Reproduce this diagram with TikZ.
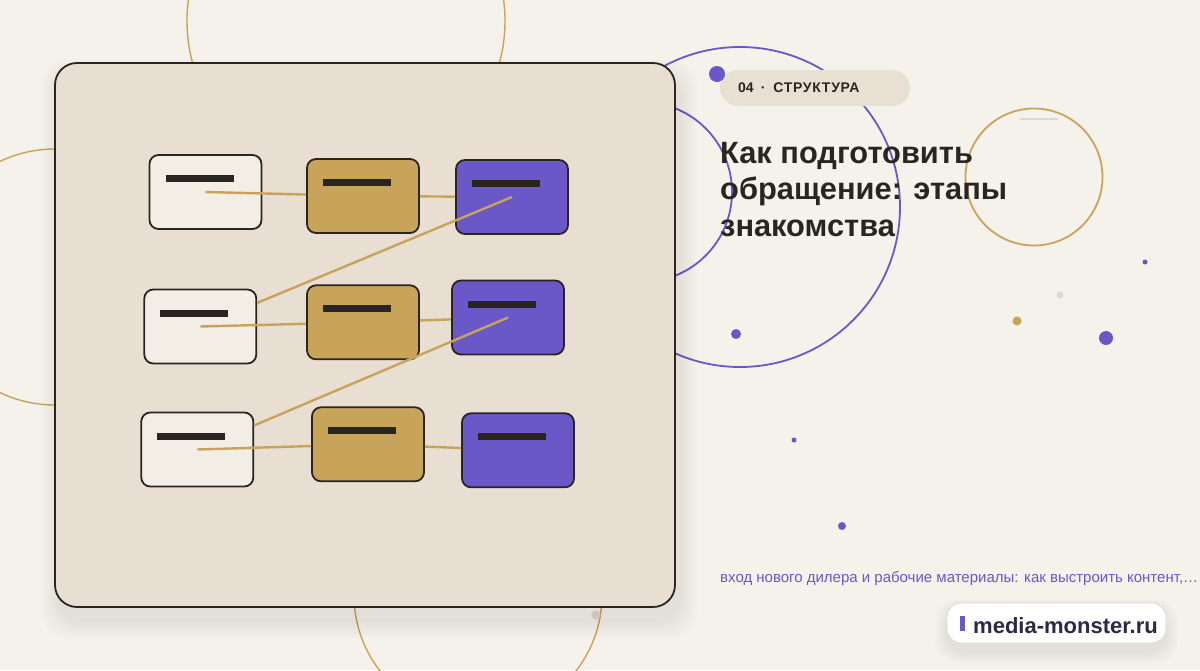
\documentclass[tikz,border=0pt]{standalone}
\usepackage{fontspec}
\setmainfont{Liberation Sans}

\definecolor{paper}{HTML}{F5F2EC}
\definecolor{panel}{HTML}{E8DFD2}
\definecolor{ink}{HTML}{2A2520}
\definecolor{gold}{HTML}{C8A45A}
\definecolor{violet}{HTML}{6A58C9}
\definecolor{cream}{HTML}{F2EDE5}
\definecolor{pill}{HTML}{E9E0D4}
\definecolor{mist}{HTML}{DDD8D0}
\definecolor{navy}{HTML}{2D2748}

\begin{document}
\begin{tikzpicture}[x=1pt, y=-1pt,
  stage/.style={draw=ink, line width=1.8pt, rounded corners=9pt,
    minimum width=112pt, minimum height=74pt, inner sep=0pt},
  stagewhite/.style={stage, fill=cream},
  stagegold/.style={stage, fill=gold},
  stageviolet/.style={stage, fill=violet},
  link/.style={draw=gold, line width=2.4pt}]

  % Background
  \fill[paper] (0, 0) rectangle (1200, 670);
  \useasboundingbox (0, 0) rectangle (1200, 670);

  % Circles behind the panel
  \draw[gold, line width=1.4pt] (346, 21) circle[radius=159pt];
  \draw[gold, line width=1.4pt] (478, 595) circle[radius=124pt];
  \draw[gold, line width=1.4pt] (55, 277) circle[radius=128pt];
  \draw[violet, line width=1.8pt] (740, 207) circle[radius=160pt];
  \draw[violet, line width=1.8pt] (642, 192) circle[radius=90pt];
  \draw[gold, line width=1.8pt] (1034, 177) circle[radius=68.5pt];
  \draw[mist, line width=1.6pt] (1020, 119) -- (1058, 119);

  % Dots
  \fill[mist] (596, 615) circle[radius=4.5pt];
  \fill[mist] (1060, 295) circle[radius=3.5pt];
  \fill[gold] (1017, 321) circle[radius=4.5pt];
  \fill[violet] (1106, 338) circle[radius=7pt];
  \fill[violet] (1145, 262) circle[radius=2.5pt];
  \fill[violet] (736, 334) circle[radius=5pt];
  \fill[violet] (794, 440) circle[radius=2.5pt];
  \fill[violet] (842, 526) circle[radius=4pt];

  % Panel with its shadow
  \foreach \s in {2, 4, ..., 18}
    \fill[black, opacity=0.009, rounded corners=26pt]
      (55-\s+4, 63-\s+14) rectangle (675+\s+4, 607+\s+14);
  \filldraw[fill=panel, draw=ink, line width=1.8pt, rounded corners=22pt]
    (55, 63) rectangle (675, 607);

  % The stages
  \node[stagewhite]  (w1) at (205.5, 192) {};
  \node[stagegold]   (g1) at (363, 196) {};
  \node[stageviolet] (v1) at (512, 197) {};
  \node[stagewhite]  (w2) at (200.3, 326.5) {};
  \node[stagegold]   (g2) at (363, 322.3) {};
  \node[stageviolet] (v2) at (508, 317.5) {};
  \node[stagewhite]  (w3) at (197.3, 449.5) {};
  \node[stagegold]   (g3) at (368, 444.3) {};
  \node[stageviolet] (v3) at (518, 450.3) {};

  % Bars inside the stages
  \foreach \n in {w1, g1, v1, w2, g2, v2, w3, g3, v3}
    \fill[ink] (\n.north west) ++(17, 21) rectangle ++(68, 7);

  % Links
  \foreach \r in {1, 2, 3} {
    \draw[link] (w\r.center) -- (g\r);
    \draw[link] (g\r) -- (v\r);
  }
  \draw[link] (v1.center) -- (w2);
  \draw[link] (v2.center) -- (w3);

  % Tag
  \fill[pill, rounded corners=18pt] (720, 70) rectangle (910, 106);
  \fill[violet] (717, 74) circle[radius=8pt];
  \node[anchor=base west, inner sep=0pt, text=ink,
    font=\fontsize{14}{16}\selectfont\bfseries] (tag) at (738, 92)
    {04\hspace{7pt}·\hspace{8pt}\addfontfeatures{LetterSpace=5}СТРУКТУРА};

  % Title
  \node[anchor=base west, inner sep=0pt, align=left, text=ink,
    font=\fontsize{30.8}{36.5}\selectfont\bfseries] (title) at (720, 236)
    {Как подготовить\\обращение: этапы\\знакомства};

  % Subtitle
  \node[anchor=base west, inner sep=0pt, text=violet,
    font=\fontsize{15}{17}\selectfont] (sub) at (720, 582)
    {вход нового дилера и рабочие материалы: как выстроить контент,…};

  % Badge
  \foreach \s in {2, 4, ..., 12}
    \fill[black, opacity=0.01, rounded corners=22pt]
      (947-\s, 603-\s+8) rectangle (1166+\s, 643+\s+8);
  \filldraw[fill=white, draw=mist, line width=0.8pt, rounded corners=14pt]
    (947, 603) rectangle (1166, 643);
  \fill[violet] (959.5, 616) rectangle (965, 631);
  \node[anchor=base west, inner sep=0pt, text=navy,
    font=\fontsize{22}{24}\selectfont\bfseries] (site) at (973, 633)
    {media-monster.ru};
\end{tikzpicture}
\end{document}
